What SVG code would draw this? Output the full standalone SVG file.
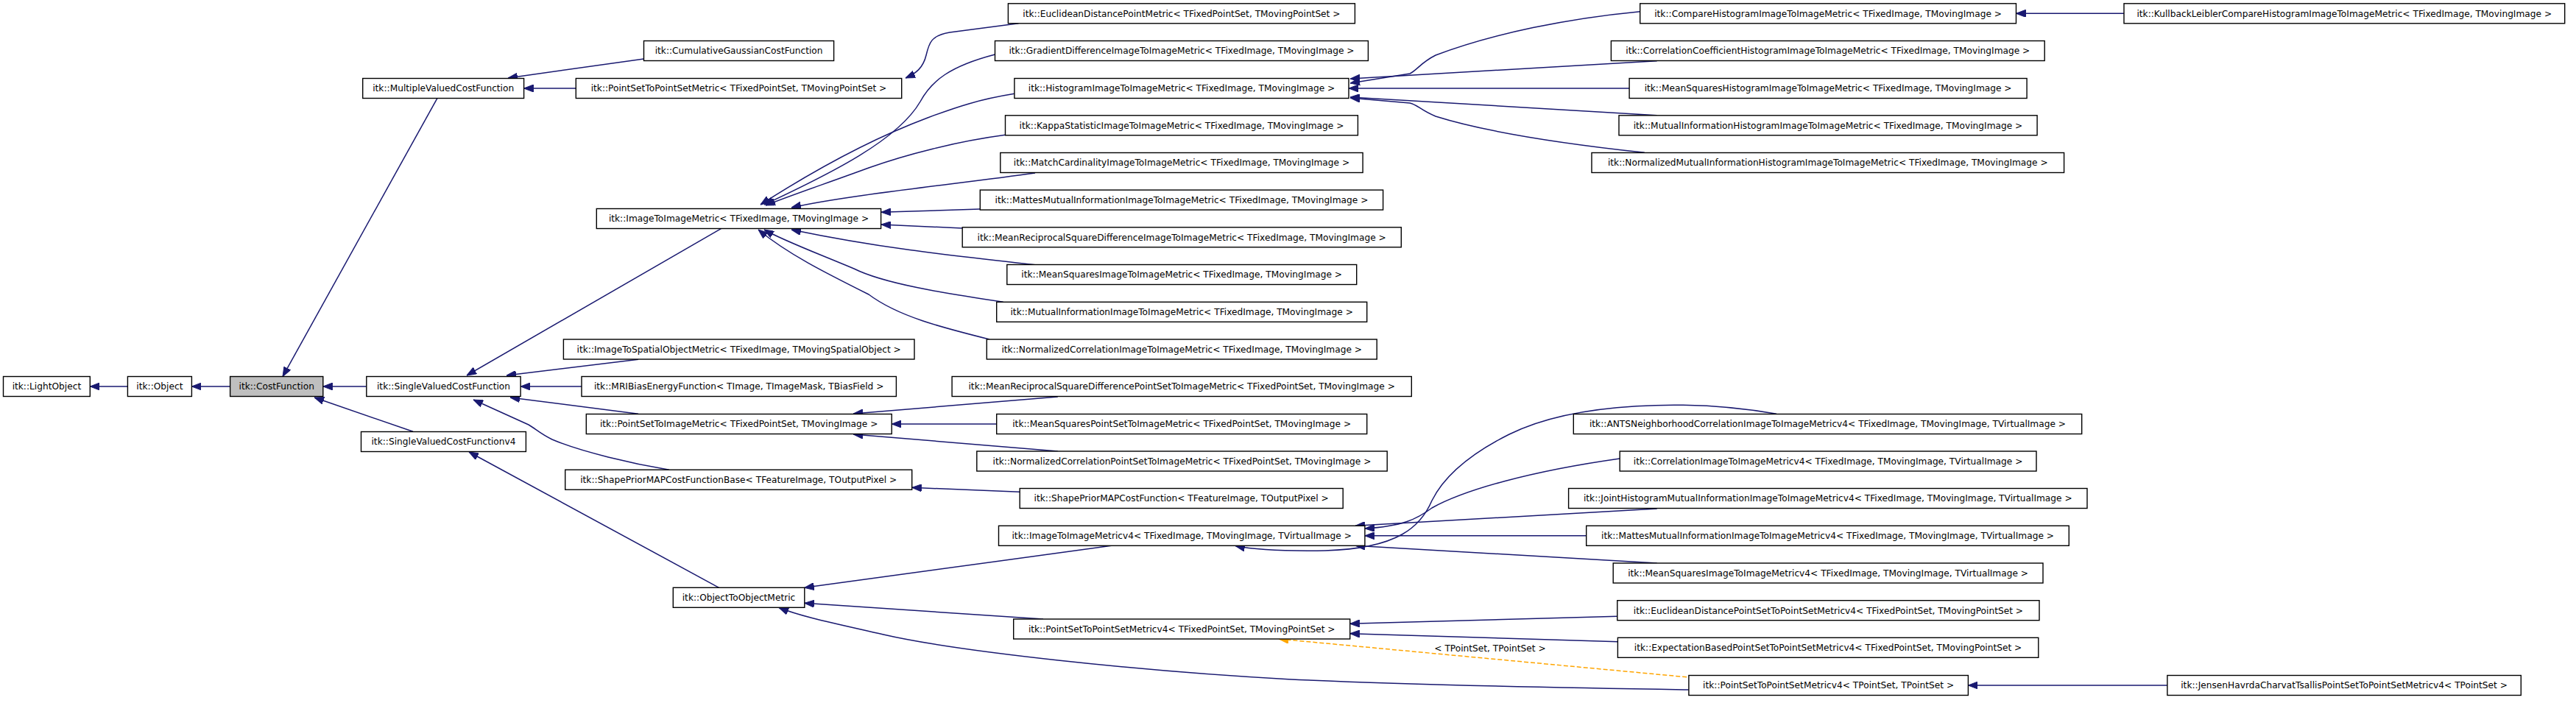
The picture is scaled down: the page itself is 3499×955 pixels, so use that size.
<svg xmlns="http://www.w3.org/2000/svg" width="3499" height="955" viewBox="0 0 3499 955">
<style>
.n rect{fill:#fff;stroke:#000;stroke-width:1.4}
.n text{font-family:"DejaVu Sans",sans-serif;font-size:12.2px;text-anchor:middle;fill:#000}
.e path{fill:none;stroke:#191970;stroke-width:1.5}
.e path.d{stroke:#ffa500;stroke-dasharray:6,3}
.lbl{font-family:"DejaVu Sans",sans-serif;font-size:12.2px;text-anchor:middle;fill:#000}
</style>
<defs>
<marker id="a" viewBox="0 0 13 10" refX="13" refY="5" markerWidth="13" markerHeight="10" markerUnits="userSpaceOnUse" orient="auto"><path d="M0,0 L13,5 L0,10 z" fill="#191970" stroke="#191970"/></marker>
<marker id="o" viewBox="0 0 13 10" refX="13" refY="5" markerWidth="13" markerHeight="10" markerUnits="userSpaceOnUse" orient="auto"><path d="M0,0 L13,5 L0,10 z" fill="#ffa500" stroke="#ffa500"/></marker>
</defs>
<rect width="3499" height="955" fill="#fff"/>
<g id="connectors" class="e">
<path marker-end="url(#a)" d="M173.4,525 L122.3,525"/>
<path marker-end="url(#a)" d="M312.6,525 L260.4,525"/>
<path marker-end="url(#a)" d="M594,133.3 L384,511.5"/>
<path marker-end="url(#a)" d="M497.8,525 L438.8,525"/>
<path marker-end="url(#a)" d="M561,586.3 L427,540"/>
<path marker-end="url(#a)" d="M874.5,80 L690,106"/>
<path marker-end="url(#a)" d="M782.3,120 L711.6,120"/>
<path marker-end="url(#a)" d="M1383.5,31.7 L1290,44 C1265,48 1262,58 1258,75 C1254,92 1244,100 1230,106"/>
<path marker-end="url(#a)" d="M979.4,310.7 L634,510"/>
<path marker-end="url(#a)" d="M867,488.3 L688,510"/>
<path marker-end="url(#a)" d="M790,525 L707.1,525"/>
<path marker-end="url(#a)" d="M867,562.3 L693,540"/>
<path marker-end="url(#a)" d="M909,638.3 C860,630 790,614 750,597 C735,590 728,583 718,577 L643,543"/>
<path marker-end="url(#a)" d="M976.6,798.3 L637,614"/>
<path marker-end="url(#a)" d="M1351.5,74 C1290,90 1265,110 1250,138 C1220,190 1130,235 1038,278"/>
<path marker-end="url(#a)" d="M1377.9,127.3 C1330,135 1300,145 1260,160 C1180,190 1100,235 1033,278"/>
<path marker-end="url(#a)" d="M1365.5,183.3 C1300,192 1230,210 1180,228 C1120,250 1075,265 1040,279"/>
<path marker-end="url(#a)" d="M1406,235 C1300,250 1150,265 1075,282"/>
<path marker-end="url(#a)" d="M1331.3,284 L1197,288.3"/>
<path marker-end="url(#a)" d="M1307,310 L1197,305"/>
<path marker-end="url(#a)" d="M1406,359.7 C1300,348 1200,338 1075,312"/>
<path marker-end="url(#a)" d="M1362.7,410.3 C1280,398 1200,385 1160,365 C1100,340 1060,325 1038,312"/>
<path marker-end="url(#a)" d="M1344,461 C1280,445 1220,430 1180,400 C1120,370 1070,345 1030,312"/>
<path marker-end="url(#a)" d="M2227.7,15.7 C2130,25 2030,45 1950,75 C1930,85 1925,95 1915,100 L1834,113"/>
<path marker-end="url(#a)" d="M2250.7,82.7 L1834,107"/>
<path marker-end="url(#a)" d="M2213.1,120 L1832,120"/>
<path marker-end="url(#a)" d="M2250.7,156.7 L1834,132"/>
<path marker-end="url(#a)" d="M2233.8,207.3 C2120,195 2020,180 1950,158 C1930,150 1925,142 1915,140 L1834,133"/>
<path marker-end="url(#a)" d="M2885,18.3 L2738.5,18.3"/>
<path marker-end="url(#a)" d="M1436.8,539 L1159,562"/>
<path marker-end="url(#a)" d="M1353.7,576 L1211.2,576"/>
<path marker-end="url(#a)" d="M1436.8,613 L1159,590"/>
<path marker-end="url(#a)" d="M1385,668.3 L1238.7,662.3"/>
<path marker-end="url(#a)" d="M1509.7,741.3 L1092.8,798.3"/>
<path marker-end="url(#a)" d="M1417,841 L1092.8,819.3"/>
<path marker-end="url(#a)" d="M2293.9,937 C2100,934 1900,930 1750,922.7 C1550,912 1300,885 1200,862 C1130,846 1090,838 1058,825.5"/>
<path marker-end="url(#a)" d="M2413,562.3 C2300,542 2140,545 2050,590 C1990,620 1960,650 1945,680 C1930,715 1900,745 1800,748 C1740,749 1700,746 1678,741.5"/>
<path marker-end="url(#a)" d="M2200,623 C2080,640 1990,665 1945,690 C1925,705 1905,715 1854,718"/>
<path marker-end="url(#a)" d="M2250.7,691 L1841,714.3"/>
<path marker-end="url(#a)" d="M2154.7,727.8 L1853.9,727.8"/>
<path marker-end="url(#a)" d="M2250.7,765 L1841,741.3"/>
<path marker-end="url(#a)" d="M2196.8,837.3 L1833.7,847.3"/>
<path marker-end="url(#a)" d="M2197.4,871.7 L1833.7,860.7"/>
<path class="d" marker-end="url(#o)" d="M2318,922.3 L1737,868"/>
<text class="lbl" x="2024" y="885">&lt; TPointSet, TPointSet &gt;</text>
<path marker-end="url(#a)" d="M2943.9,931 L2673.4,931"/>
</g>
<g id="n1" class="n"><rect x="4.5" y="511.5" width="117.8" height="27"/><text x="63.4" y="529.3">itk::LightObject</text></g>
<g id="n2" class="n"><rect x="173.4" y="511.5" width="87" height="27"/><text x="216.9" y="529.3">itk::Object</text></g>
<g id="n3" class="n"><rect x="312.6" y="511.5" width="126.2" height="27" style="fill:#bfbfbf"/><text x="375.7" y="529.3">itk::CostFunction</text></g>
<g id="n4" class="n"><rect x="492.7" y="106.5" width="218.9" height="27"/><text x="602.2" y="124.3">itk::MultipleValuedCostFunction</text></g>
<g id="n5" class="n"><rect x="497.8" y="511.5" width="209.3" height="27"/><text x="602.5" y="529.3">itk::SingleValuedCostFunction</text></g>
<g id="n6" class="n"><rect x="490.5" y="586.5" width="223.9" height="27"/><text x="602.5" y="604.3">itk::SingleValuedCostFunctionv4</text></g>
<g id="n7" class="n"><rect x="874.5" y="55.5" width="258.1" height="27"/><text x="1003.6" y="73.3">itk::CumulativeGaussianCostFunction</text></g>
<g id="n8" class="n"><rect x="782.3" y="106.5" width="442.4" height="27"/><text x="1003.5" y="124.3">itk::PointSetToPointSetMetric&lt; TFixedPointSet, TMovingPointSet &gt;</text></g>
<g id="n9" class="n"><rect x="810.3" y="283.5" width="386.3" height="27"/><text x="1003.5" y="301.3">itk::ImageToImageMetric&lt; TFixedImage, TMovingImage &gt;</text></g>
<g id="n10" class="n"><rect x="765.4" y="461" width="476.6" height="27"/><text x="1003.7" y="478.8">itk::ImageToSpatialObjectMetric&lt; TFixedImage, TMovingSpatialObject &gt;</text></g>
<g id="n11" class="n"><rect x="790" y="511.5" width="427.4" height="27"/><text x="1003.7" y="529.3">itk::MRIBiasEnergyFunction&lt; TImage, TImageMask, TBiasField &gt;</text></g>
<g id="n12" class="n"><rect x="796.3" y="562.5" width="414.9" height="27"/><text x="1003.7" y="580.3">itk::PointSetToImageMetric&lt; TFixedPointSet, TMovingImage &gt;</text></g>
<g id="n13" class="n"><rect x="767.7" y="638.2" width="471" height="27"/><text x="1003.2" y="656">itk::ShapePriorMAPCostFunctionBase&lt; TFeatureImage, TOutputPixel &gt;</text></g>
<g id="n14" class="n"><rect x="914.3" y="798.3" width="178.5" height="27"/><text x="1003.5" y="816.1">itk::ObjectToObjectMetric</text></g>
<g id="n15" class="n"><rect x="1369.4" y="4.8" width="471" height="27"/><text x="1604.9" y="22.6">itk::EuclideanDistancePointMetric&lt; TFixedPointSet, TMovingPointSet &gt;</text></g>
<g id="n16" class="n"><rect x="1351.5" y="55.5" width="506.9" height="27"/><text x="1605" y="73.3">itk::GradientDifferenceImageToImageMetric&lt; TFixedImage, TMovingImage &gt;</text></g>
<g id="n17" class="n"><rect x="1377.9" y="106.5" width="454.1" height="27"/><text x="1605" y="124.3">itk::HistogramImageToImageMetric&lt; TFixedImage, TMovingImage &gt;</text></g>
<g id="n18" class="n"><rect x="1365.5" y="156.8" width="478.9" height="27"/><text x="1605" y="174.6">itk::KappaStatisticImageToImageMetric&lt; TFixedImage, TMovingImage &gt;</text></g>
<g id="n19" class="n"><rect x="1358.8" y="207.5" width="492.3" height="27"/><text x="1605" y="225.3">itk::MatchCardinalityImageToImageMetric&lt; TFixedImage, TMovingImage &gt;</text></g>
<g id="n20" class="n"><rect x="1331.3" y="258.1" width="547.3" height="27"/><text x="1605" y="275.9">itk::MattesMutualInformationImageToImageMetric&lt; TFixedImage, TMovingImage &gt;</text></g>
<g id="n21" class="n"><rect x="1307.2" y="308.8" width="596.1" height="27"/><text x="1605.2" y="326.6">itk::MeanReciprocalSquareDifferenceImageToImageMetric&lt; TFixedImage, TMovingImage &gt;</text></g>
<g id="n22" class="n"><rect x="1367.8" y="359.5" width="474.9" height="27"/><text x="1605.2" y="377.3">itk::MeanSquaresImageToImageMetric&lt; TFixedImage, TMovingImage &gt;</text></g>
<g id="n23" class="n"><rect x="1353.7" y="410.3" width="503" height="27"/><text x="1605.2" y="428.1">itk::MutualInformationImageToImageMetric&lt; TFixedImage, TMovingImage &gt;</text></g>
<g id="n24" class="n"><rect x="1340.3" y="461" width="529.9" height="27"/><text x="1605.2" y="478.8">itk::NormalizedCorrelationImageToImageMetric&lt; TFixedImage, TMovingImage &gt;</text></g>
<g id="n25" class="n"><rect x="1293.1" y="511.5" width="624.2" height="27"/><text x="1605.2" y="529.3">itk::MeanReciprocalSquareDifferencePointSetToImageMetric&lt; TFixedPointSet, TMovingImage &gt;</text></g>
<g id="n26" class="n"><rect x="1353.7" y="562.5" width="503" height="27"/><text x="1605.2" y="580.3">itk::MeanSquaresPointSetToImageMetric&lt; TFixedPointSet, TMovingImage &gt;</text></g>
<g id="n27" class="n"><rect x="1326.8" y="613" width="557.4" height="27"/><text x="1605.5" y="630.8">itk::NormalizedCorrelationPointSetToImageMetric&lt; TFixedPointSet, TMovingImage &gt;</text></g>
<g id="n28" class="n"><rect x="1385.2" y="663.5" width="439" height="27"/><text x="1604.7" y="681.3">itk::ShapePriorMAPCostFunction&lt; TFeatureImage, TOutputPixel &gt;</text></g>
<g id="n29" class="n"><rect x="1356.5" y="714.3" width="497.4" height="27"/><text x="1605.2" y="732.1">itk::ImageToImageMetricv4&lt; TFixedImage, TMovingImage, TVirtualImage &gt;</text></g>
<g id="n30" class="n"><rect x="1376.7" y="841" width="457" height="27"/><text x="1605.2" y="858.8">itk::PointSetToPointSetMetricv4&lt; TFixedPointSet, TMovingPointSet &gt;</text></g>
<g id="n31" class="n"><rect x="2293.9" y="917.5" width="379.5" height="27"/><text x="2483.6" y="935.3">itk::PointSetToPointSetMetricv4&lt; TPointSet, TPointSet &gt;</text></g>
<g id="n32" class="n"><rect x="2227.7" y="4.8" width="510.8" height="27"/><text x="2483.1" y="22.6">itk::CompareHistogramImageToImageMetric&lt; TFixedImage, TMovingImage &gt;</text></g>
<g id="n33" class="n"><rect x="2188.4" y="55.5" width="588.8" height="27"/><text x="2482.8" y="73.3">itk::CorrelationCoefficientHistogramImageToImageMetric&lt; TFixedImage, TMovingImage &gt;</text></g>
<g id="n34" class="n"><rect x="2213.1" y="106.5" width="540" height="27"/><text x="2483.1" y="124.3">itk::MeanSquaresHistogramImageToImageMetric&lt; TFixedImage, TMovingImage &gt;</text></g>
<g id="n35" class="n"><rect x="2199" y="156.8" width="568.1" height="27"/><text x="2483" y="174.6">itk::MutualInformationHistogramImageToImageMetric&lt; TFixedImage, TMovingImage &gt;</text></g>
<g id="n36" class="n"><rect x="2162" y="207.5" width="641.6" height="27"/><text x="2482.8" y="225.3">itk::NormalizedMutualInformationHistogramImageToImageMetric&lt; TFixedImage, TMovingImage &gt;</text></g>
<g id="n37" class="n"><rect x="2885" y="4.8" width="598.7" height="27"/><text x="3184.3" y="22.6">itk::KullbackLeiblerCompareHistogramImageToImageMetric&lt; TFixedImage, TMovingImage &gt;</text></g>
<g id="n38" class="n"><rect x="2137.3" y="562.5" width="690.4" height="27"/><text x="2482.5" y="580.3">itk::ANTSNeighborhoodCorrelationImageToImageMetricv4&lt; TFixedImage, TMovingImage, TVirtualImage &gt;</text></g>
<g id="n39" class="n"><rect x="2200.2" y="613" width="565.8" height="27"/><text x="2483.1" y="630.8">itk::CorrelationImageToImageMetricv4&lt; TFixedImage, TMovingImage, TVirtualImage &gt;</text></g>
<g id="n40" class="n"><rect x="2130.6" y="663.5" width="704.4" height="27"/><text x="2482.8" y="681.3">itk::JointHistogramMutualInformationImageToImageMetricv4&lt; TFixedImage, TMovingImage, TVirtualImage &gt;</text></g>
<g id="n41" class="n"><rect x="2154.7" y="714.3" width="655.6" height="27"/><text x="2482.5" y="732.1">itk::MattesMutualInformationImageToImageMetricv4&lt; TFixedImage, TMovingImage, TVirtualImage &gt;</text></g>
<g id="n42" class="n"><rect x="2191.2" y="765" width="583.8" height="27"/><text x="2483.1" y="782.8">itk::MeanSquaresImageToImageMetricv4&lt; TFixedImage, TMovingImage, TVirtualImage &gt;</text></g>
<g id="n43" class="n"><rect x="2196.8" y="815.7" width="573.2" height="27"/><text x="2483.4" y="833.5">itk::EuclideanDistancePointSetToPointSetMetricv4&lt; TFixedPointSet, TMovingPointSet &gt;</text></g>
<g id="n44" class="n"><rect x="2197.4" y="866.3" width="571.4" height="27"/><text x="2483.1" y="884.1">itk::ExpectationBasedPointSetToPointSetMetricv4&lt; TFixedPointSet, TMovingPointSet &gt;</text></g>
<g id="n45" class="n"><rect x="2943.9" y="917.5" width="480.4" height="27"/><text x="3184.1" y="935.3">itk::JensenHavrdaCharvatTsallisPointSetToPointSetMetricv4&lt; TPointSet &gt;</text></g>
</svg>
